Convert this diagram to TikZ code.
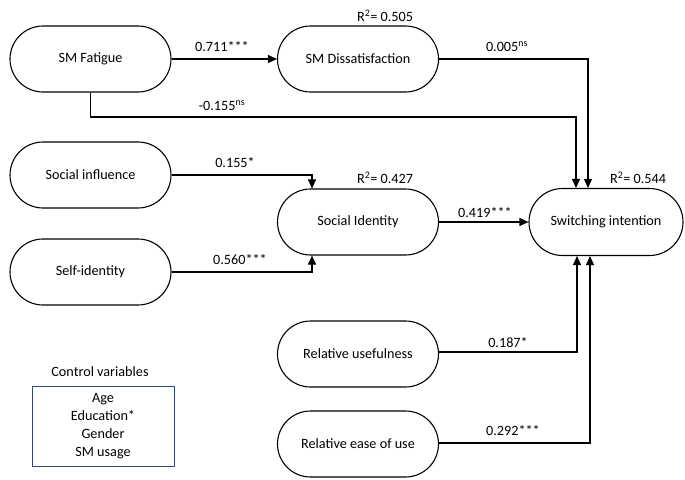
\documentclass[tikz,border=0pt]{standalone}
\usepackage{fontspec}
\setmainfont{Carlito}
\usetikzlibrary{shapes.misc,arrows.meta}
\definecolor{boxblue}{HTML}{2E4A78}
\begin{document}
\begin{tikzpicture}[x=1pt,y=-1pt,
  font=\fontsize{14.2}{17}\selectfont,
  var/.style={draw,rounded rectangle,line width=1.1pt,minimum width=161pt,minimum height=66pt,inner sep=0pt},
  arr/.style={line width=1.1pt,-{Triangle[length=9pt,width=8pt]}},
  lab/.style={inner sep=0pt}]
\useasboundingbox (0,0) rectangle (685,479);
\node[var] (fat) at (90.5,59) {SM Fatigue};
\node[var] (dis) at (358,59) {SM Dissatisfaction};
\node[var] (si) at (90.5,175) {Social influence};
\node[var] (sid) at (90.5,272) {Self-identity};
\node[var] (sident) at (358,222) {Social Identity};
\node[var,minimum width=154pt,minimum height=67pt] (sw) at (606,222) {Switching intention};
\node[var] (ru) at (358,354) {Relative usefulness};
\node[var] (re) at (358,444) {Relative ease of use};

\coordinate (k1) at (576,117);
\coordinate (k2) at (588,59);
\coordinate (k3) at (312,175);
\coordinate (k4) at (312,272);
\coordinate (k5) at (577,352);
\coordinate (k6) at (590,443);

\draw[arr] (fat.east) -- (dis.west);
\draw[arr] (fat.south) |- (k1) -- (k1 |- sw.north);
\draw[arr] (dis.east) -- (k2) -- (k2 |- sw.north);
\draw[arr] (si.east) -- (k3) -- (k3 |- sident.north);
\draw[arr] (sid.east) -- (k4) -- (k4 |- sident.south);
\draw[arr] (sident.east) -- (sw.west);
\draw[arr] (ru.east |- k5) -- (k5) -- (k5 |- sw.south);
\draw[arr] (re.east |- k6) -- (k6) -- (k6 |- sw.south);

\node[lab] (l1) at (222,47) {0.711***};
\node[lab] (l2) at (222,106) {-0.155\textsuperscript{ns}};
\node[lab] (l3) at (507,47) {0.005\textsuperscript{ns}};
\node[lab] (r1) at (385,16) {R\textsuperscript{2}= 0.505};
\node[lab] (l4) at (235,163) {0.155*};
\node[lab] (l5) at (240,260) {0.560***};
\node[lab] (r2) at (385,178) {R\textsuperscript{2}= 0.427};
\node[lab] (l6) at (485,213) {0.419***};
\node[lab] (r3) at (638,178) {R\textsuperscript{2}= 0.544};
\node[lab] (l7) at (508,343) {0.187*};
\node[lab] (l8) at (513,431) {0.292***};

\node[lab] (cvt) at (100,372) {Control variables};
\node[draw=boxblue,line width=1pt,minimum width=142pt,minimum height=80pt,align=center,inner sep=0pt,
  font=\fontsize{14.2}{18}\selectfont] (cv) at (103,426) {Age\\Education*\\Gender\\SM usage};
\end{tikzpicture}
\end{document}
